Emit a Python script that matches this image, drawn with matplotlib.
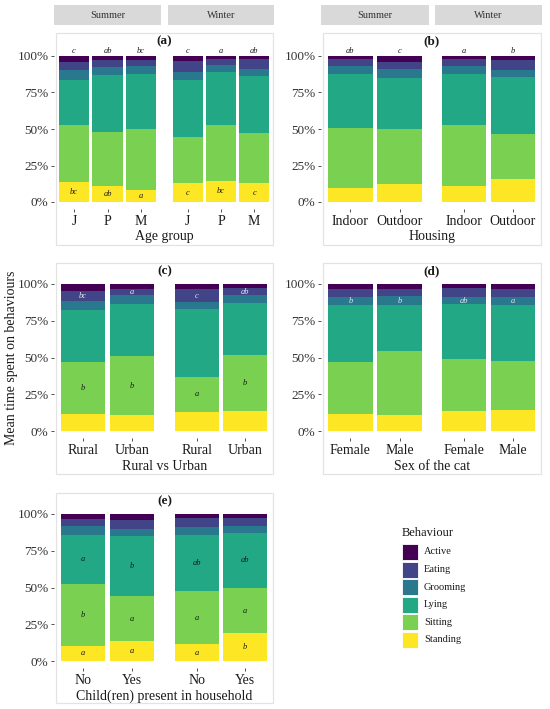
import matplotlib.pyplot as plt
from matplotlib.patches import Rectangle

plt.rcParams["font.family"] = ["Liberation Serif", "DejaVu Serif"]

# ---- data (percent of time) ----
behaviours = ["Active", "Eating", "Grooming", "Lying", "Sitting", "Standing"]
colours = ["#440154", "#414487", "#2A788E", "#22A884", "#7AD151", "#FDE725"]
seasons = ["Summer", "Winter"]

age_cats = ["J", "P", "M"]
age_pct = [  # columns: Summer J, P, M, Winter J, P, M
    [4.1, 2.7, 2.5, 3.4, 2.3, 2.0],
    [5.7, 4.8, 4.6, 7.6, 4.1, 6.9],
    [6.9, 5.5, 5.5, 5.4, 4.6, 4.6],
    [30.6, 39.1, 37.4, 39.3, 36.5, 39.0],
    [39.0, 36.9, 41.6, 31.3, 37.9, 34.5],
    [13.7, 11.0, 8.4, 13.0, 14.6, 13.0],
]
age_letters = {
    "top": ["c", "ab", "bc", "c", "a", "ab"],
    "Standing": ["bc", "ab", "a", "c", "bc", "c"],
}

housing_cats = ["Indoor", "Outdoor"]
housing_pct = [
    [2.1, 3.9, 2.1, 2.7],
    [4.5, 5.2, 5.0, 6.9],
    [5.5, 6.0, 5.0, 4.6],
    [37.2, 34.9, 35.4, 39.5],
    [41.1, 37.7, 41.5, 30.8],
    [9.6, 12.3, 11.0, 15.5],
]
housing_letters = {"top": ["ab", "c", "a", "b"]}

area_cats = ["Rural", "Urban"]
area_pct = [
    [5.0, 3.4, 3.4, 3.0],
    [6.4, 4.3, 9.1, 4.5],
    [6.6, 5.7, 4.6, 5.5],
    [35.0, 35.9, 45.9, 35.2],
    [35.2, 39.6, 24.0, 38.2],
    [11.8, 11.1, 13.0, 13.6],
]
area_letters = {
    "Eating": ["bc", "a", "c", "ab"],
    "Sitting": ["b", "b", "a", "b"],
}

sex_cats = ["Female", "Male"]
sex_pct = [
    [3.6, 3.4, 3.0, 3.2],
    [5.5, 4.6, 5.6, 5.9],
    [5.4, 6.5, 5.3, 5.0],
    [38.5, 31.2, 37.2, 38.6],
    [35.4, 43.2, 35.3, 33.2],
    [11.6, 11.1, 13.6, 14.1],
]
sex_letters = {"Grooming": ["b", "b", "ab", "a"]}

child_cats = ["No", "Yes"]
child_pct = [
    [3.4, 3.9, 3.0, 3.0],
    [4.6, 6.1, 6.1, 5.4],
    [6.1, 4.8, 5.0, 4.6],
    [33.4, 41.3, 38.2, 37.2],
    [42.0, 30.5, 36.3, 30.9],
    [10.5, 13.4, 11.4, 18.9],
]
child_letters = {
    "Lying": ["a", "b", "ab", "ab"],
    "Sitting": ["b", "a", "a", "a"],
    "Standing": ["a", "a", "a", "b"],
}

letter_colour = {"Eating": "#e8e8f0", "Grooming": "#dde8ee"}

# ---- layout helpers (pixels of a 550 x 709 canvas) ----
W, H = 550, 709
fig = plt.figure(figsize=(5.5, 7.09), dpi=100)


def fx(x):
    return x / W


def fy(y):
    return 1 - y / H


def draw_panel(tag, cats, pct, letters, xtitle, facets, y100, y0, border,
               strips=False):
    n = len(cats)
    span = y0 - y100
    top_px = y100 - 0.05 * span
    bot_px = y0 + 0.05 * span

    bx0, by0, bx1, by1 = border
    fig.patches.append(Rectangle((fx(bx0), fy(by1)), (bx1 - bx0) / W,
                                 (by1 - by0) / H, transform=fig.transFigure,
                                 fill=False, edgecolor="#e3e3e3", lw=0.9))
    fig.text(fx((bx0 + bx1) / 2), fy(by0 + 8), f"({tag})", ha="center",
             va="center", fontsize=9.5, fontweight="bold", color="#1a1a1a")
    fig.text(fx((bx0 + bx1) / 2), fy(y0 + 35), xtitle, ha="center",
             va="center", fontsize=10, color="#1a1a1a")

    for f, (x0, x1) in enumerate(facets):
        ax = fig.add_axes([fx(x0), fy(bot_px), (x1 - x0) / W,
                           (bot_px - top_px) / H])
        cols = range(f * n, (f + 1) * n)
        bottom = [0.0] * n
        for b in reversed(range(len(behaviours))):
            vals = [pct[b][c] / 100 for c in cols]
            ax.bar(range(n), vals, width=0.9, bottom=bottom,
                   color=colours[b], linewidth=0)
            name = behaviours[b]
            if name in letters:
                for i, c in enumerate(cols):
                    ax.text(i, bottom[i] + vals[i] / 2, letters[name][c],
                            ha="center", va="center", fontsize=6,
                            style="italic",
                            color=letter_colour.get(name, "#1a1a1a"))
            bottom = [bottom[i] + vals[i] for i in range(n)]
        if "top" in letters:
            for i, c in enumerate(cols):
                ax.text(i, 1.035, letters["top"][c], ha="center",
                        va="center", fontsize=6, style="italic",
                        color="#1a1a1a", clip_on=False)

        ax.set_xlim(-0.6, n - 0.4)
        ax.set_ylim(-0.05, 1.05)
        ax.set_xticks(range(n))
        ax.set_xticklabels(cats, fontsize=10, color="#1a1a1a")
        ax.set_yticks([0, 0.25, 0.5, 0.75, 1.0])
        if f == 0:
            ax.set_yticklabels(["0%", "25%", "50%", "75%", "100%"],
                               fontsize=9.5, color="#333333")
            ax.tick_params(axis="y", length=2.5, width=0.6,
                           color="#333333", pad=1.5)
        else:
            ax.tick_params(axis="y", length=0, labelleft=False)
        ax.tick_params(axis="x", length=2, width=0.6, color="#333333",
                       pad=2)
        for s in ax.spines.values():
            s.set_visible(False)
        ax.patch.set_alpha(0)

        if strips:
            fig.patches.append(Rectangle((fx(x0), fy(25)), (x1 - x0) / W,
                                         20 / H, transform=fig.transFigure,
                                         facecolor="#d9d9d9", lw=0))
            fig.text(fx((x0 + x1) / 2), fy(15), seasons[f], ha="center",
                     va="center", fontsize=7.5, color="#333333")


left_facets = [(54, 161), (168, 274)]
right_facets = [(321, 429), (435, 542)]

draw_panel("a", age_cats, age_pct, age_letters, "Age group",
           left_facets, 56, 202, (56, 33, 273, 245), strips=True)
draw_panel("b", housing_cats, housing_pct, housing_letters, "Housing",
           right_facets, 56, 202, (323, 33, 541, 245), strips=True)
draw_panel("c", area_cats, area_pct, area_letters, "Rural vs Urban",
           left_facets, 284, 431, (56, 263, 273, 474))
draw_panel("d", sex_cats, sex_pct, sex_letters, "Sex of the cat",
           right_facets, 284, 431, (323, 263, 541, 474))
draw_panel("e", child_cats, child_pct, child_letters,
           "Child(ren) present in household",
           left_facets, 514, 661, (56, 493, 273, 703))

fig.text(fx(12), fy(358), "Mean time spent on behaviours", rotation=90,
         ha="center", va="center", fontsize=10, color="#1a1a1a")

# ---- legend ----
fig.text(fx(402), fy(533), "Behaviour", ha="left", va="center",
         fontsize=9, color="#1a1a1a")
for i, (name, col) in enumerate(zip(behaviours, colours)):
    ytop = 544 + i * 17.6
    fig.patches.append(Rectangle((fx(402), fy(ytop + 16)), 16 / W, 16 / H,
                                 transform=fig.transFigure, facecolor=col,
                                 edgecolor="white", lw=0.6))
    fig.text(fx(424), fy(ytop + 8), name, ha="left", va="center",
             fontsize=7.5, color="#1a1a1a")

fig.savefig("out.png", dpi=100)
